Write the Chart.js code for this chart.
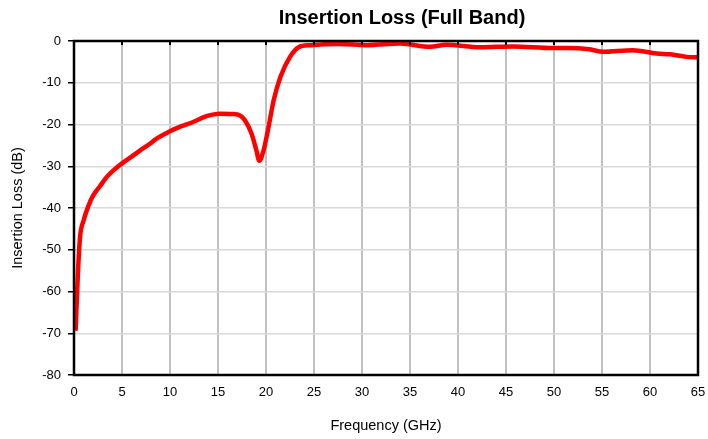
<!DOCTYPE html>
<html>
<head>
<meta charset="utf-8">
<script src="https://cdn.jsdelivr.net/npm/chart.js@4"></script>
<style>
  html, body { margin: 0; padding: 0; background: #fff; }
  #wrap { width: 708px; height: 439px; }
</style>
</head>
<body>
<div id="wrap"><canvas id="lossChart"></canvas></div>
<script>
// ── Data ──────────────────────────────────────────────────────────────────
const freqGHz = [0.17, 0.4, 0.63, 1.0, 1.5, 2.0, 2.7, 3.4, 4.2, 5.07, 6.0, 6.9, 7.8, 8.6, 10.0,
  11.2, 12.4, 13.8, 15.2, 16.6, 17.4, 17.8, 18.5, 19.0, 19.3, 19.7, 20.2, 20.8, 21.5, 22.5,
  23.4, 24.6, 27.7, 30.5, 34.0, 37.1, 38.8, 42.3, 45.7, 49.9, 51.3, 53.7, 55.1, 58.2,
  60.7, 62.1, 63.8, 65.0];
const lossDb = [-69.4, -56, -47, -43, -39.5, -37, -34.8, -32.6, -30.8, -29.2, -27.7, -26.2, -24.8, -23.4, -21.6,
  -20.4, -19.4, -18.0, -17.4, -17.5, -18.0, -19.0, -22.2, -26.2, -28.7, -26.6, -21.4, -14.2, -8.6, -3.8,
  -1.5, -1.0, -0.7, -1.0, -0.6, -1.4, -0.9, -1.5, -1.3, -1.7, -1.7, -2.0, -2.6, -2.2,
  -3.0, -3.2, -3.8, -3.9];
const xTicks = [0, 5, 10, 15, 20, 25, 30, 35, 40, 45, 50, 55, 60, 65];
const yTicks = [0, -10, -20, -30, -40, -50, -60, -70, -80];
const chartTitle = 'Insertion Loss (Full Band)';

const FONT = 'Arial, "Liberation Sans", sans-serif';

// ── Plot frame (black box around the chart area) + title ──────────────────
const frame = {
  id: 'frame',
  afterDraw(chart) {
    const { ctx, chartArea: a } = chart;
    ctx.save();
    ctx.strokeStyle = '#000';
    ctx.lineWidth = 2.5;
    ctx.strokeRect(a.left, a.top, a.right - a.left, a.bottom - a.top);
    // small inward tick marks along top
    ctx.lineWidth = 2;
    const xs = chart.scales.x;
    xTicks.forEach(v => {
      const px = xs.getPixelForValue(v);
      ctx.beginPath(); ctx.moveTo(px, a.top); ctx.lineTo(px, a.top + 4); ctx.stroke();
    });
    // title, sits a bit right of centre like the original
    ctx.fillStyle = '#000';
    ctx.font = 'bold 20px ' + FONT;
    ctx.textAlign = 'center';
    ctx.textBaseline = 'middle';
    ctx.fillText(chartTitle, 402, 18);
    ctx.restore();
  }
};

new Chart(document.getElementById('lossChart'), {
  type: 'line',
  data: {
    datasets: [{
      data: freqGHz.map((f, i) => ({ x: f, y: lossDb[i] })),
      borderColor: '#ff0000',
      borderWidth: 4.5,
      pointRadius: 0,
      cubicInterpolationMode: 'monotone',
      fill: false,
      clip: false
    }]
  },
  options: {
    responsive: true,
    maintainAspectRatio: false,
    animation: false,
    layout: { padding: { left: 0, right: 10, top: 41, bottom: 0 } },
    plugins: {
      legend: { display: false },
      tooltip: { enabled: false },
      title: { display: false }
    },
    scales: {
      x: {
        type: 'linear',
        min: 0, max: 65,
        afterBuildTicks: s => { s.ticks = xTicks.map(v => ({ value: v })); },
        afterFit: s => { s.height = 64; s.paddingRight = 0; s.paddingLeft = 0; },
        ticks: { color: '#000', font: { family: FONT, size: 13 }, padding: 10, maxRotation: 0 },
        grid: { color: '#c0c0c0', lineWidth: 2, tickLength: 0, tickColor: '#000' },
        border: { display: false },
        title: {
          display: true, text: 'Frequency (GHz)', color: '#000',
          font: { family: FONT, size: 14.5 }, padding: { top: 5 }
        }
      },
      y: {
        min: -80, max: 0,
        afterBuildTicks: s => { s.ticks = yTicks.map(v => ({ value: v })); },
        afterFit: s => { s.width = 74; },
        ticks: { color: '#000', font: { family: FONT, size: 13 }, padding: 7 },
        grid: { color: '#d9d9d9', lineWidth: 1.5, tickLength: 6, tickColor: '#000' },
        border: { display: false },
        title: {
          display: true, text: 'Insertion Loss (dB)', color: '#000',
          font: { family: FONT, size: 14.5 }, padding: { top: 9, bottom: 4 }
        }
      }
    }
  },
  plugins: [frame]
});
</script>
</body>
</html>
